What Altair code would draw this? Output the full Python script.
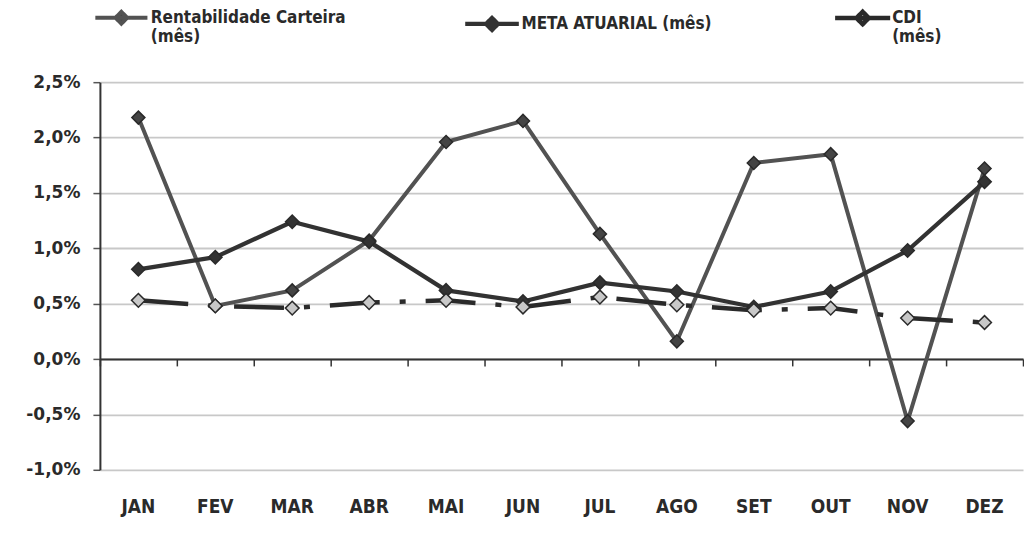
import altair as alt
import pandas as pd

months = ["JAN", "FEV", "MAR", "ABR", "MAI", "JUN", "JUL", "AGO", "SET", "OUT", "NOV", "DEZ"]
carteira = [2.18, 0.48, 0.62, 1.07, 1.96, 2.15, 1.13, 0.16, 1.77, 1.85, -0.56, 1.72]
meta = [0.81, 0.92, 1.24, 1.06, 0.62, 0.52, 0.69, 0.61, 0.47, 0.61, 0.98, 1.60]
cdi = [0.53, 0.48, 0.46, 0.51, 0.53, 0.47, 0.56, 0.49, 0.44, 0.46, 0.37, 0.33]
series_names = ["Rentabilidade Carteira (mês)", "META ATUARIAL (mês)", "CDI (mês)"]
y_ticks = [-0.01, -0.005, 0.0, 0.005, 0.01, 0.015, 0.02, 0.025]

rows = []
for name, vals in zip(series_names, [carteira, meta, cdi]):
    for m, v in zip(months, vals):
        rows.append({"month": m, "value": v / 100.0, "series": name})
df = pd.DataFrame(rows)

COND = "DejaVu Sans Condensed, Liberation Sans Narrow, sans-serif"
VERD = "DejaVu Sans, Verdana, sans-serif"

xscale = alt.Scale(type="band", paddingInner=0, paddingOuter=0)
x_main = alt.X(
    "month:N", sort=months, scale=xscale,
    axis=alt.Axis(title=None, orient="bottom", labelFont=COND, labelFontSize=19, labelFontWeight="bold",
                  labelColor="#2a2a2a", labelPadding=28, domain=False, ticks=False,
                  labelAngle=0, grid=False),
)
y_enc = alt.Y(
    "value:Q", scale=alt.Scale(domain=[-0.01, 0.025], nice=False, zero=False),
    axis=alt.Axis(title=None, values=y_ticks,
                  labelExpr="replace(replace(format(datum.value, '.1%'), '.', ','), '\u2212', '-')",
                  labelFont=VERD, labelFontSize=17, labelFontWeight="bold", labelColor="#2a2a2a",
                  labelPadding=13, tickSize=7, tickColor="#555", tickWidth=1.5,
                  grid=True, gridColor="#c8c8c8", gridWidth=1.8,
                  domainColor="#333", domainWidth=2, minExtent=92, maxExtent=92),
)

legend = alt.Legend(
    orient="none", legendX=12, legendY=-74, direction="horizontal", columns=3,
    title=None, gridAlign="all", columnPadding=108,
    symbolType="M-4,0H4M0,-0.9L0.9,0L0,0.9L-0.9,0Z",
    symbolStrokeWidth=4, symbolFillColor="#333", symbolDash=[1, 0],
    labelFont=COND, labelFontSize=17, labelFontWeight="bold", labelColor="#2a2a2a",
    labelOffset=20, labelLimit=300, labelBaseline="middle",
    labelExpr="datum.label == 'Rentabilidade Carteira (mês)' ? ['Rentabilidade Carteira', '(mês)'] : datum.label == 'CDI (mês)' ? ['CDI', '(mês)'] : datum.label",
)

color_enc = alt.Color("series:N", sort=series_names,
                      scale=alt.Scale(domain=series_names, range=["#525252", "#323232", "#2a2a2a"]),
                      legend=legend)
width_enc = alt.StrokeWidth("series:N", sort=series_names,
                            scale=alt.Scale(domain=series_names, range=[4, 4.5, 5.5]),
                            legend=None)

base = alt.Chart(df)

solid_lines = base.transform_filter(
    alt.datum.series != "CDI (mês)"
).mark_line(strokeCap="butt", strokeJoin="round").encode(
    x=x_main, y=y_enc, color=color_enc, strokeWidth=width_enc,
)

cdi_line = base.transform_filter(
    alt.datum.series == "CDI (mês)"
).mark_line(strokeCap="butt", strokeDash=[50, 20, 6, 20]).encode(
    x=alt.X("month:N", sort=months, scale=xscale, axis=None),
    y=alt.Y("value:Q"), color=color_enc, strokeWidth=width_enc,
)

points = base.mark_point(shape="diamond", filled=True, stroke="#2a2a2a", strokeWidth=1.5, opacity=1).encode(
    x=alt.X("month:N", sort=months, scale=xscale, axis=None),
    y=alt.Y("value:Q"),
    fill=alt.Fill("series:N", sort=series_names,
                  scale=alt.Scale(domain=series_names, range=["#444444", "#333333", "#c8c8c8"]),
                  legend=None),
    size=alt.Size("series:N", sort=series_names,
                  scale=alt.Scale(domain=series_names, range=[170, 190, 280]),
                  legend=None),
)

zero_axis = base.mark_point(opacity=0).encode(
    x=alt.X("month:N", sort=months, scale=xscale,
            axis=alt.Axis(title=None, labels=False, domain=True, domainColor="#333", domainWidth=2,
                          ticks=True, tickBand="extent", tickSize=7, tickColor="#333", tickWidth=1.5,
                          offset=-111, orient="bottom", grid=False)),
    y=alt.Y("value:Q"),
)

chart = (
    alt.layer(zero_axis, solid_lines, cdi_line, points)
    .resolve_axis(x="independent")
    .properties(width=924, height=388, padding=0, background="white")
    .configure_view(stroke=None)
)

chart.save("out.html", embed_options={"renderer": "svg", "actions": False})
